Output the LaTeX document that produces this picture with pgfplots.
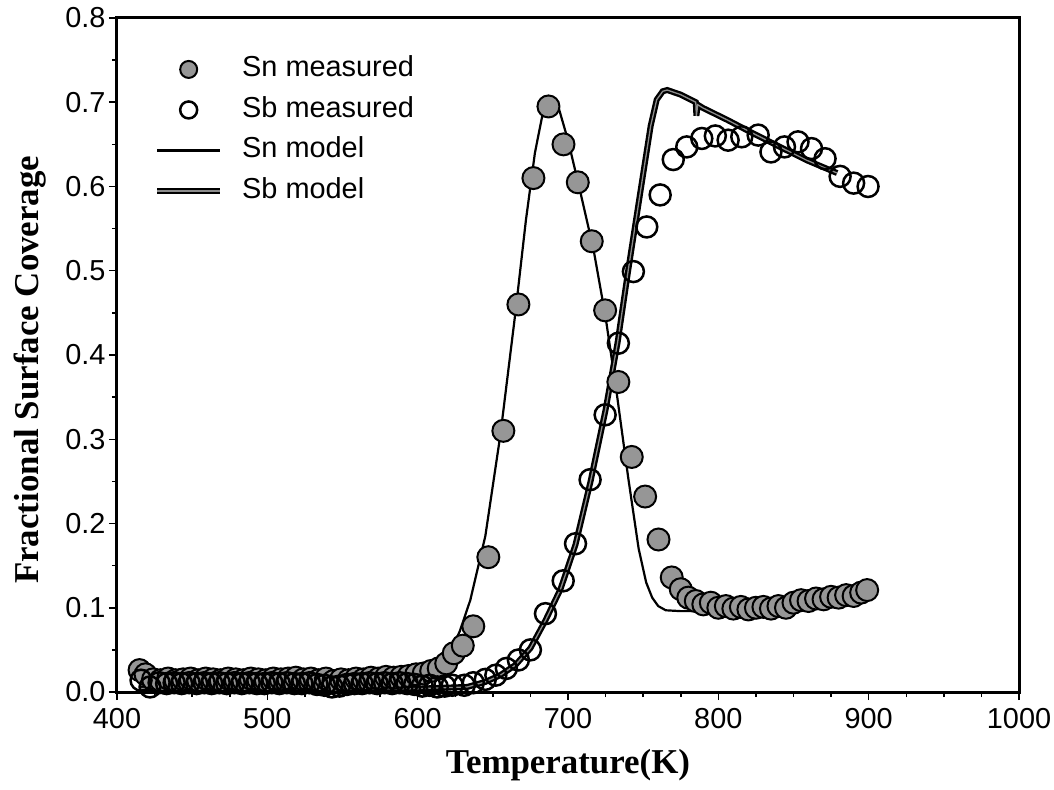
\documentclass[border=0pt]{standalone}
\usepackage{fontspec}
\setmainfont{Liberation Sans}
\newfontfamily\timesfont{Liberation Serif}
\usepackage{pgfplots}
\pgfplotsset{compat=1.18}
\usetikzlibrary{calc}
\definecolor{sngray}{RGB}{150,150,150}
\definecolor{sbinner}{RGB}{140,140,140}

\pgfplotsset{
  markleg/.style={legend image code/.code={\draw[##1, mark size=8.5bp] plot coordinates {(31.5bp,0bp)};}},
  lineleg/.style={legend image code/.code={\draw[##1] (0bp,0bp) -- (63bp,0bp);}},
  dblleg/.style={legend image code/.code={\draw[black, line width=6bp] (0bp,0bp) -- (63bp,0bp); \draw[##1] (0bp,0bp) -- (63bp,0bp);}},
}

\pgfplotstableread{
x y
415 0.026
419 0.021
424 0.015
429 0.014
434 0.016
439 0.014
444 0.015
449 0.016
454 0.014
459 0.016
464 0.015
469 0.014
474 0.016
479 0.015
484 0.014
489 0.016
494 0.015
499 0.014
504 0.016
509 0.015
514 0.016
519 0.017
524 0.015
529 0.016
534 0.014
539 0.016
544 0.013
549 0.015
554 0.014
559 0.016
564 0.015
569 0.017
574 0.016
579 0.018
584 0.017
589 0.018
594 0.019
599 0.021
604 0.022
609 0.025
614 0.028
619 0.034
624 0.046
630 0.055
637 0.078
647 0.160
657 0.310
667 0.460
677 0.610
687 0.695
697 0.650
706.5 0.605
715.8 0.535
724.7 0.453
733.5 0.368
742.4 0.279
751.3 0.232
760.2 0.181
769 0.136
775 0.122
780 0.112
785 0.108
790 0.104
795 0.106
800 0.100
805 0.102
810 0.099
815 0.101
820 0.098
825 0.100
830 0.101
835 0.099
840 0.102
845 0.100
850 0.106
855 0.109
860 0.108
865 0.111
870 0.110
875 0.113
880 0.112
885 0.115
890 0.114
895 0.118
899 0.121
}\snmeas

\pgfplotstableread{
x y
416 0.014
422 0.006
428 0.011
433 0.010
438 0.011
443 0.010
448 0.011
453 0.010
458 0.011
463 0.010
468 0.011
473 0.010
478 0.011
483 0.010
488 0.011
493 0.010
498 0.010
503 0.011
508 0.010
513 0.011
518 0.010
523 0.010
528 0.011
533 0.009
538 0.008
543 0.006
548 0.007
553 0.009
558 0.010
563 0.010
568 0.011
573 0.010
578 0.011
583 0.010
588 0.011
593 0.010
598 0.009
603 0.007
608 0.008
613 0.006
618 0.007
623 0.008
631 0.008
637 0.011
645 0.015
652 0.020
659 0.028
667 0.038
675 0.050
685 0.093
696.8 0.132
705 0.176
714.7 0.252
724.7 0.329
733.5 0.414
743.5 0.499
752.4 0.552
761.3 0.590
770 0.632
779 0.647
789 0.657
798 0.660
806.5 0.655
815.6 0.659
826.5 0.661
835 0.641
844 0.647
853 0.653
862 0.645
871 0.633
881 0.612
890 0.604
899.6 0.600
}\sbmeas

\pgfplotstableread{
x y
415 0.012
500 0.012
580 0.013
595 0.016
605 0.020
612 0.026
620 0.042
628 0.072
635 0.109
645 0.185
655 0.305
665 0.450
672 0.560
678 0.640
683 0.685
687 0.700
690 0.703
694 0.692
700 0.655
708 0.595
717 0.525
725 0.445
732 0.360
740 0.255
747 0.170
752 0.130
756 0.112
760 0.102
765 0.097
775 0.096
850 0.097
}\snmodel

\pgfplotstableread{
x y
415 0.004
600 0.004
633 0.006
645 0.012
655 0.020
665 0.032
675 0.052
685 0.085
695 0.122
705 0.175
715 0.250
725 0.335
733 0.415
740 0.500
748 0.592
755 0.672
759 0.703
763 0.713
766 0.7145
775 0.709
785 0.700
785.4 0.684
786.3 0.697
790 0.693
806 0.679
821 0.665
841 0.647
859 0.631
879 0.616
}\sbmodel

\begin{document}
\begin{tikzpicture}
\begin{axis}[name=ax, at={(0,0)}, anchor=south west,
  width=902bp, height=674bp, scale only axis,
  xmin=400, xmax=1000, ymin=0, ymax=0.8,
  xtick={400,500,600,700,800,900,1000},
  ytick={0,0.1,0.2,0.3,0.4,0.5,0.6,0.7,0.8},
  minor x tick num=3, minor y tick num=1,
  tick align=outside, xtick pos=left, ytick pos=left,
  major tick length=8bp, minor tick length=5bp,
  every tick/.style={black, line width=1.5bp},
  axis line style={line width=3bp},
  tick label style={font=\fontsize{29}{33}\selectfont},
  /pgf/number format/assume math mode=true,
  yticklabel style={/pgf/number format/.cd, fixed, fixed zerofill, precision=1},
  xticklabel style={/pgf/number format/.cd, fixed, 1000 sep={}},
  xticklabel shift=5bp,
  xlabel={Temperature(K)},
  ylabel={Fractional Surface Coverage},
  xlabel style={font=\fontsize{35}{40}\selectfont\timesfont\bfseries, at={(axis description cs:0.5,-0.108)}, anchor=center},
  ylabel style={font=\fontsize{35}{40}\selectfont\timesfont\bfseries, at={(axis description cs:-0.0965,0.478)}, anchor=center},
  legend style={draw=none, fill=none, at={(axis description cs:0.041,0.944)}, anchor=north west,
    inner sep=0pt, font=\fontsize{29}{33}\selectfont, row sep=13.5bp,
    nodes={inner sep=0pt, text height=21bp, text depth=6bp},
    /tikz/every odd column/.append style={column sep=19bp}},
  legend cell align=left,
]
\addplot[only marks, mark=*, mark size=11bp, mark options={fill=sngray, draw=black, line width=2bp}, markleg] table[x=x,y=y] {\snmeas};
\addlegendentry{Sn measured}
\addplot[only marks, mark=o, mark size=10.5bp, mark options={draw=black, line width=2.5bp}, markleg] table[x=x,y=y] {\sbmeas};
\addlegendentry{Sb measured}
\addplot[black, line width=2.2bp, no marks, lineleg] table[x=x,y=y] {\snmodel};
\addlegendentry{Sn model}
\addplot[black, line width=6bp, no marks, forget plot] table[x=x,y=y] {\sbmodel};
\addplot[sbinner, line width=1.3bp, no marks, dblleg] table[x=x,y=y] {\sbmodel};
\addlegendentry{Sb model}
\end{axis}
\pgfresetboundingbox
\path ($(ax.south west)+(-117bp,-97bp)$) rectangle ($(ax.north east)+(35bp,18bp)$);
\end{tikzpicture}
\end{document}
